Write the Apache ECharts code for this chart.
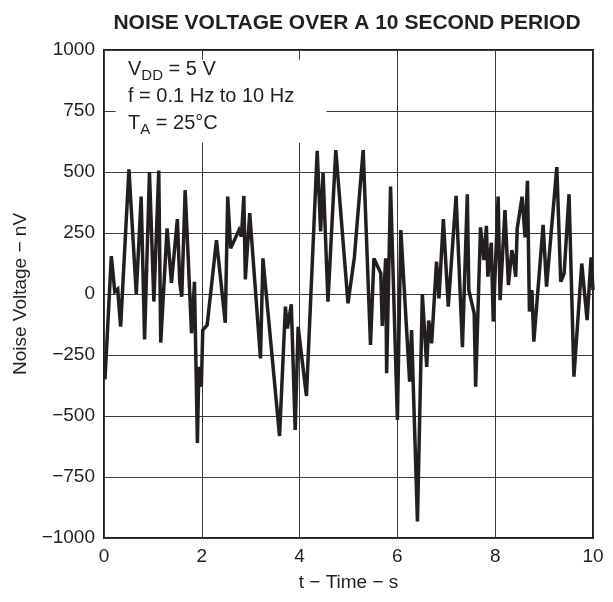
<!DOCTYPE html>
<html>
<head>
<meta charset="utf-8">
<script src="https://cdn.jsdelivr.net/npm/echarts@6/dist/echarts.min.js"></script>
<style>
  html, body { margin: 0; padding: 0; background: #fff; }
  #chart { width: 613px; height: 602px; }
</style>
</head>
<body>
<div id="chart"></div>
<script>
// Sample times (s) and measured noise voltage (nV)
const times = [
  0.02, 0.15, 0.22, 0.28, 0.34, 0.51, 0.66, 0.76, 0.83, 0.93,
  1.02, 1.12, 1.16, 1.29, 1.38, 1.50, 1.55, 1.59, 1.66, 1.79,
  1.85, 1.91, 1.94, 1.99, 2.02, 2.11, 2.30, 2.48, 2.53, 2.59,
  2.76, 2.81, 2.86, 2.89, 2.98, 3.20, 3.25, 3.59, 3.71, 3.75,
  3.83, 3.91, 3.97, 4.14, 4.36, 4.43, 4.48, 4.58, 4.74, 4.99,
  5.12, 5.15, 5.30, 5.45, 5.52, 5.66, 5.69, 5.76, 5.78, 5.86,
  6.00, 6.07, 6.25, 6.29, 6.41, 6.51, 6.60, 6.64, 6.70, 6.80,
  6.85, 6.94, 7.04, 7.20, 7.33, 7.43, 7.46, 7.57, 7.60, 7.70,
  7.77, 7.82, 7.85, 7.92, 7.96, 8.06, 8.10, 8.20, 8.27, 8.34,
  8.37, 8.42, 8.45, 8.55, 8.61, 8.66, 8.70, 8.75, 8.79, 8.98,
  9.05, 9.26, 9.34, 9.41, 9.51, 9.61, 9.77, 9.88, 9.96, 10.0
];
const voltages = [
  -350, 155, 10, 20, -134, 511, 0, 399, -186, 498,
  -31, 506, -199, 269, 46, 307, 46, -11, 426, -161,
  50, -611, -298, -380, -148, -127, 221, -118, 399, 187,
  262, 235, 402, 60, 331, -264, 146, -582, -52, -141,
  -42, -557, -134, -418, 587, 256, 496, -31, 590, -38,
  150, 225, 590, -209, 146, 85, -131, 146, -325, 440,
  -516, 262, -359, -148, -932, 0, -299, -109, -202, 133,
  -18, 307, -52, 402, -218, 409, 16, -79, -380, 273,
  139, 279, 71, 210, -113, 399, -25, 344, 37, 180,
  150, 71, 269, 399, 232, 464, -72, 16, -195, 283,
  30, 520, 50, 85, 409, -339, 125, -107, 150, 16
];

// Conditions shown in the corner box
const condLines = [
  '{t|V}{s|DD}{t| = 5 V}',
  '{t|f = 0.1 Hz to 10 Hz}',
  '{t|T}{s|A}{t| = 25°C}'
];

const FONT = 'Liberation Sans, Arial, Helvetica, sans-serif';
const INK = '#231f20';
const minus = v => String(v).replace('-', '\u2212');

const chart = echarts.init(document.getElementById('chart'), null, { renderer: 'canvas' });

chart.setOption({
  backgroundColor: '#fff',
  animation: false,
  title: {
    text: 'NOISE VOLTAGE OVER A 10 SECOND PERIOD',
    left: 342, top: 8, textAlign: 'center',
    textStyle: { fontFamily: FONT, fontSize: 21, fontWeight: 'bold', color: INK }
  },
  grid: {
    left: 104, right: 20, top: 50, bottom: 64,
    show: true, borderColor: INK, borderWidth: 2, backgroundColor: 'transparent'
  },
  xAxis: {
    type: 'value', min: 0, max: 10, interval: 2,
    name: 't \u2212 Time \u2212 s', nameLocation: 'middle', nameGap: 35,
    nameTextStyle: { fontFamily: FONT, fontSize: 19, color: INK },
    axisLine: { show: false },
    axisTick: { show: false },
    axisLabel: { fontFamily: FONT, fontSize: 19, color: INK, margin: 9, formatter: minus },
    splitLine: { show: true, lineStyle: { color: '#3a3a3a', width: 1 } }
  },
  yAxis: {
    type: 'value', min: -1000, max: 1000, interval: 250,
    name: 'Noise Voltage \u2212 nV', nameLocation: 'middle', nameGap: 69,
    nameTextStyle: { fontFamily: FONT, fontSize: 19, color: INK },
    axisLine: { show: false },
    axisTick: { show: false },
    axisLabel: { fontFamily: FONT, fontSize: 19, color: INK, margin: 9, formatter: minus },
    splitLine: { show: true, lineStyle: { color: '#3a3a3a', width: 1 } }
  },
  series: [{
    type: 'line',
    data: times.map((t, i) => [t, voltages[i]]),
    showSymbol: false,
    lineStyle: { color: INK, width: 3.5, join: 'miter', miterLimit: 4 },
    z: 5,
    markArea: {
      silent: true,
      itemStyle: { color: '#fff', opacity: 1 },
      data: [[{ coord: [0.24, 960] }, { coord: [4.55, 620] }]]
    }
  }],
  graphic: [{
    type: 'text',
    left: 128, top: 59, z: 10,
    style: {
      text: condLines.join('\n'),
      fontFamily: FONT,
      rich: {
        t: { fontSize: 20, fill: INK, fontFamily: FONT, lineHeight: 27 },
        s: { fontSize: 15, fill: INK, fontFamily: FONT, lineHeight: 27, verticalAlign: 'bottom', padding: [9, 0, 0, 0] }
      }
    }
  }]
});
</script>
</body>
</html>
